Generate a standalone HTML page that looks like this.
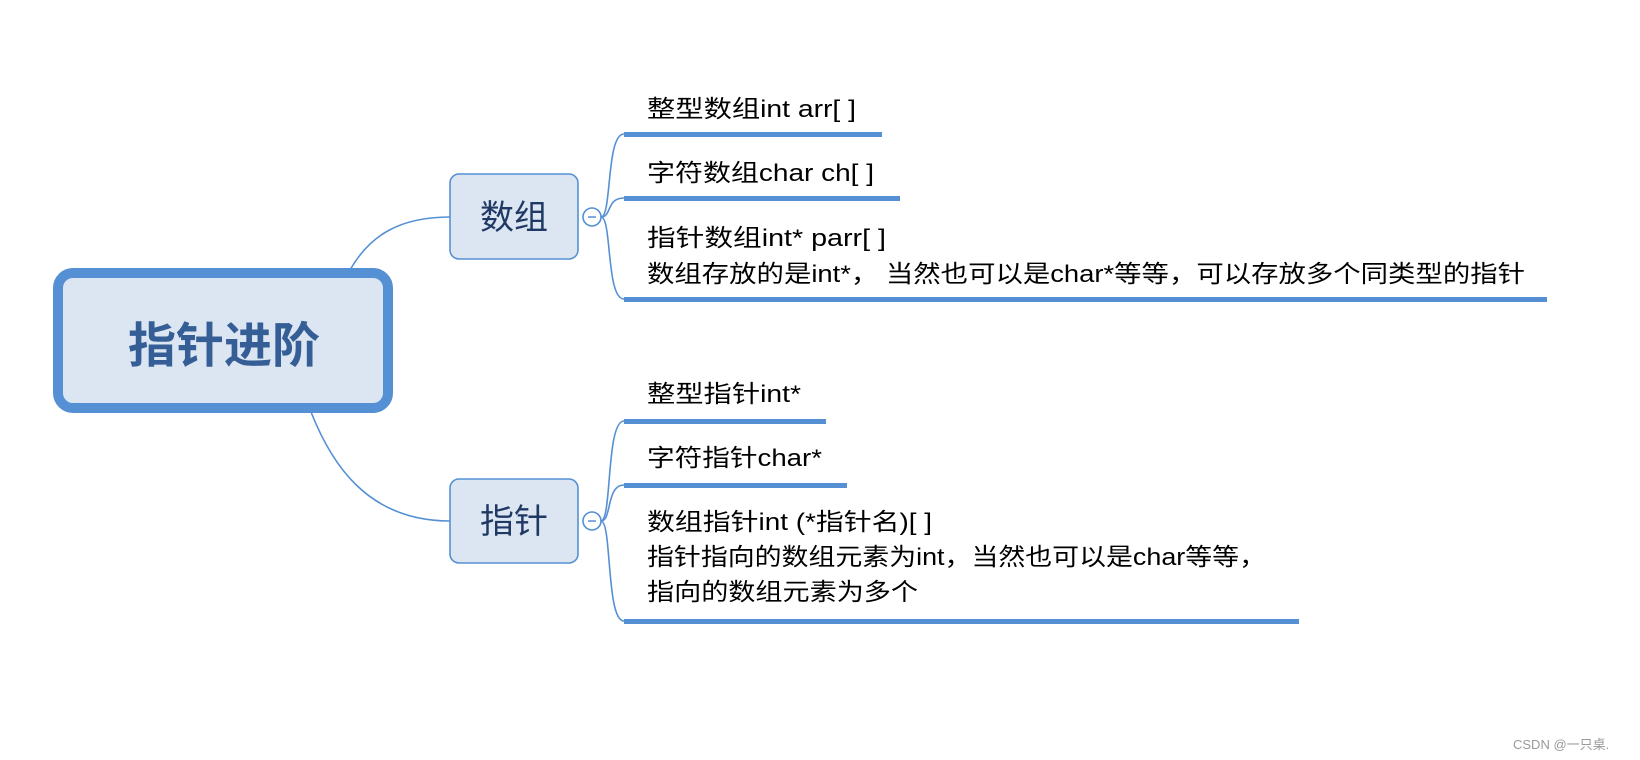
<!DOCTYPE html>
<html><head><meta charset="utf-8"><style>
html,body{margin:0;padding:0;background:#fff;}
svg{display:block}
text{font-family:"Liberation Sans","Noto Sans CJK SC",sans-serif;}
</style></head><body>
<svg width="1640" height="760" viewBox="0 0 1640 760" xmlns="http://www.w3.org/2000/svg">
<g fill="none" stroke="#5590d4" stroke-width="1.6">
<path d="M350 270 C 370 235, 400 217, 450 217"/>
<path d="M311 412 C 330 460, 365 521, 450 521"/>
<path d="M601 217 C 612 217, 606 134, 624 134"/>
<path d="M601 217 C 612 217, 606 198, 624 198"/>
<path d="M601 217 C 612 217, 606 299, 624 299"/>
<path d="M601 521 C 612 521, 606 421, 624 421"/>
<path d="M601 521 C 612 521, 606 485, 624 485"/>
<path d="M601 521 C 612 521, 606 621, 624 621"/>
</g>
<g fill="#5590d4">
<rect x="624" y="132" width="258" height="5"/>
<rect x="624" y="196" width="276" height="5"/>
<rect x="624" y="297" width="923" height="5"/>
<rect x="624" y="419" width="202" height="5"/>
<rect x="624" y="483" width="223" height="5"/>
<rect x="624" y="619" width="675" height="5"/>
</g>
<rect x="58" y="273" width="330" height="135" rx="15" fill="#dce6f2" stroke="#5590d4" stroke-width="10"/>
<text x="224" y="362" text-anchor="middle" font-size="48" font-weight="bold" fill="#355e96">指针进阶</text>
<rect x="450" y="174" width="128" height="85" rx="9" fill="#dce6f2" stroke="#5590d4" stroke-width="1.6"/>
<text x="514" y="229" text-anchor="middle" font-size="34" fill="#1f3864">数组</text>
<rect x="450" y="479" width="128" height="84" rx="9" fill="#dce6f2" stroke="#5590d4" stroke-width="1.6"/>
<text x="514" y="533" text-anchor="middle" font-size="34" fill="#1f3864">指针</text>
<g fill="#fff" stroke="#5590d4" stroke-width="1.6">
<circle cx="592" cy="217" r="9"/><circle cx="592" cy="521" r="9"/>
</g>
<g stroke="#5590d4" stroke-width="1.5"><line x1="588" y1="217" x2="596" y2="217"/><line x1="588" y1="521" x2="596" y2="521"/></g>
<g font-size="24" fill="#000">
<text x="647" y="117" textLength="209" lengthAdjust="spacingAndGlyphs">整型数组int arr[ ]</text>
<text x="647" y="181" textLength="227" lengthAdjust="spacingAndGlyphs">字符数组char ch[ ]</text>
<text x="647" y="246" textLength="239" lengthAdjust="spacingAndGlyphs">指针数组int* parr[ ]</text>
<text x="647" y="282" textLength="878" lengthAdjust="spacingAndGlyphs">数组存放的是int*， 当然也可以是char*等等，可以存放多个同类型的指针</text>
<text x="647" y="402" textLength="154" lengthAdjust="spacingAndGlyphs">整型指针int*</text>
<text x="647" y="466" textLength="175" lengthAdjust="spacingAndGlyphs">字符指针char*</text>
<text x="647" y="530" textLength="285" lengthAdjust="spacingAndGlyphs">数组指针int (*指针名)[ ]</text>
<text x="647" y="565" textLength="619" lengthAdjust="spacingAndGlyphs">指针指向的数组元素为int，当然也可以是char等等，</text>
<text x="647" y="600" textLength="271" lengthAdjust="spacingAndGlyphs">指向的数组元素为多个</text>
</g>
<text x="1513" y="749" font-size="13" fill="#999">CSDN @一只桌.</text>
</svg>
</body></html>
